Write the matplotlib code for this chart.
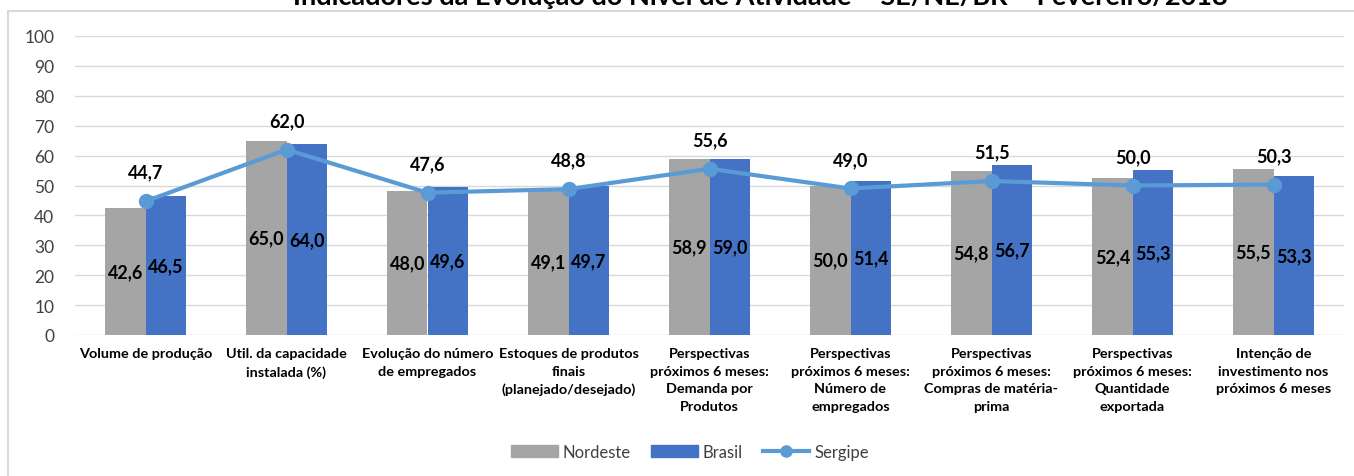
import numpy as np
import matplotlib.pyplot as plt
from matplotlib.patches import Rectangle
from matplotlib.lines import Line2D

plt.rcParams['font.family'] = ['Lato', 'DejaVu Sans']

categories = [
    "Volume de produção",
    "Util. da capacidade\ninstalada (%)",
    "Evolução do número\nde empregados",
    "Estoques de produtos\nfinais\n(planejado/desejado)",
    "Perspectivas\npróximos 6 meses:\nDemanda por\nProdutos",
    "Perspectivas\npróximos 6 meses:\nNúmero de\nempregados",
    "Perspectivas\npróximos 6 meses:\nCompras de matéria-\nprima",
    "Perspectivas\npróximos 6 meses:\nQuantidade\nexportada",
    "Intenção de\ninvestimento nos\npróximos 6 meses",
]
nordeste = [42.6, 65.0, 48.0, 49.1, 58.9, 50.0, 54.8, 52.4, 55.5]
brasil = [46.5, 64.0, 49.6, 49.7, 59.0, 51.4, 56.7, 55.3, 53.3]
sergipe = [44.7, 62.0, 47.6, 48.8, 55.6, 49.0, 51.5, 50.0, 50.3]
title = "Indicadores da Evolução do Nível de Atividade – SE/NE/BR – Fevereiro/2018"

fig = plt.figure(figsize=(13.54, 4.77), dpi=100)
ax = fig.add_axes([75 / 1354, 1 - 336 / 477, 1269 / 1354, 299 / 477])

x = np.arange(len(categories))
w = 0.285
ax.bar(x - w / 2, nordeste, w, color="#A5A5A5", zorder=2)
ax.bar(x + w / 2, brasil, w, color="#4472C4", zorder=2)
ax.plot(x, sergipe, color="#5B9BD5", lw=3, marker="o", ms=10, zorder=3)

for i in range(len(x)):
    ax.text(x[i] - w / 2, nordeste[i] / 2, f"{nordeste[i]:.1f}".replace(".", ","),
            ha="center", va="center", fontsize=13, fontweight="bold", color="black", zorder=4)
    ax.text(x[i] + w / 2, brasil[i] / 2, f"{brasil[i]:.1f}".replace(".", ","),
            ha="center", va="center", fontsize=13, fontweight="bold", color="black", zorder=4)
    ax.annotate(f"{sergipe[i]:.1f}".replace(".", ","), (x[i], sergipe[i]),
                xytext=(0, 21), textcoords="offset points", ha="center", va="center",
                fontsize=13, fontweight="bold", color="black", zorder=4)

ax.set_xlim(-0.5, len(x) - 0.5)
ax.set_ylim(0, 100)
ax.set_yticks(range(0, 101, 10))
ax.yaxis.grid(True, color="#D9D9D9", lw=1, zorder=0)
ax.set_axisbelow(True)
for s in ax.spines.values():
    s.set_visible(False)
ax.tick_params(axis="both", length=0)
ax.tick_params(axis="y", labelsize=12.5, labelcolor="#404040", pad=15)
ax.set_xticks(x)
ax.set_xticklabels(categories, fontsize=10.4, fontweight="bold", linespacing=1.55)
ax.tick_params(axis="x", pad=9)

fig.text(760 / 1354, 1 - 5 / 477, title, ha="center", va="baseline",
         fontsize=19.5, fontweight="bold")

# chart frame
fig.add_artist(Rectangle((8 / 1354, -0.1), 1.2, 1 - 12 / 477 + 0.1,
                         transform=fig.transFigure, fill=False,
                         edgecolor="#D9D9D9", lw=1.5))

handles = [
    Rectangle((0, 0), 1, 1, color="#A5A5A5"),
    Rectangle((0, 0), 1, 1, color="#4472C4"),
    Line2D([], [], color="#5B9BD5", lw=3, marker="o", ms=8),
]
fig.legend(handles, ["Nordeste", "Brasil", "Sergipe"], loc="center",
           bbox_to_anchor=(690 / 1354, 1 - 453 / 477), ncol=3, frameon=False,
           fontsize=12, labelcolor="#404040", handlelength=2.8, handleheight=0.7,
           columnspacing=1.2, handletextpad=0.3)

fig.savefig("out.png", dpi=100)
